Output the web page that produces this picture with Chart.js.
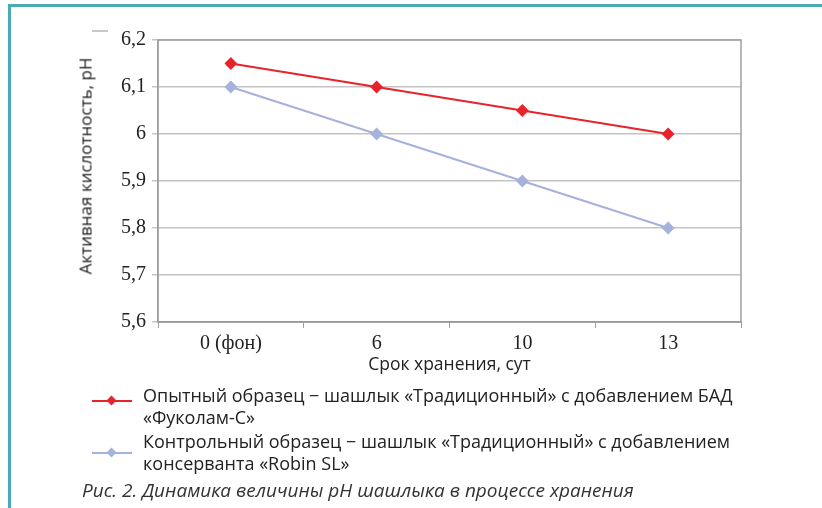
<!DOCTYPE html>
<html>
<head>
<meta charset="utf-8">
<script src="https://cdn.jsdelivr.net/npm/chart.js@4.4.1/dist/chart.umd.min.js"></script>
<style>
    body { margin: 0; background: #fff; }
    #wrap { position: relative; width: 822px; height: 508px; overflow: hidden; }
    #frameTop { position: absolute; left: 8px; top: 4px; width: 814px; height: 3px; background: #4aaab6; }
    #frameLeft { position: absolute; left: 8px; top: 4px; width: 3px; height: 504px; background: #4aaab6; }
    #dash { position: absolute; left: 92px; top: 30px; width: 16px; height: 2px; background: #c8c8c8; }
    canvas { position: absolute; left: 0; top: 0; }
    .txt { position: absolute; font-family: "Open Sans", sans-serif; font-size: 18px; color: #222; white-space: nowrap; line-height: 22px; }
    .mark { position: absolute; width: 40px; height: 2px; }
    .mark span { position: absolute; left: 16px; top: -3px; width: 7px; height: 7px; transform: rotate(45deg); }
    #caption { font-style: italic; color: #333; font-size: 19px; }
    #yTitle { position: absolute; left: 85px; top: 166px; font-family: "Open Sans", sans-serif; font-size: 17px; color: #222;
              white-space: nowrap; transform: translate(-50%, -50%) rotate(-90deg); }
</style>
</head>
<body>
<div id="wrap">
    <div id="frameTop"></div>
    <div id="frameLeft"></div>
    <div id="dash"></div>
    <canvas id="chartPh" width="822" height="508"></canvas>
    <div id="yTitle">Активная кислотность, pH</div>
    <div class="mark" style="left:92px; top:400px; background:#e8232c;"><span style="background:#e8232c;"></span></div>
    <div class="txt" style="left:143px; top:384px;">Опытный образец − шашлык «Традиционный» с добавлением БАД<br>«Фуколам-С»</div>
    <div class="mark" style="left:92px; top:452px; background:#a6b1dc;"><span style="background:#a6b1dc;"></span></div>
    <div class="txt" style="left:143px; top:430px;">Контрольный образец − шашлык «Традиционный» с добавлением<br>консерванта «Robin SL»</div>
    <div class="txt" id="caption" style="left:82px; top:479px;">Рис. 2. Динамика величины pH шашлыка в процессе хранения</div>
</div>
<script>
const days = ["0 (фон)", "6", "10", "13"];
const experimentPh = [6.15, 6.1, 6.05, 6.0];
const controlPh = [6.1, 6.0, 5.9, 5.8];

const seriesLabels = [
    "Опытный образец − шашлык «Традиционный» с добавлением БАД «Фуколам-С»",
    "Контрольный образец − шашлык «Традиционный» с добавлением консерванта «Robin SL»"
];

const chartPh = document.getElementById("chartPh");

// Frame around the plot area
const plotFrame = {
    id: "plotFrame",
    afterDraw(chart) {
        const { ctx, chartArea } = chart;
        ctx.save();
        ctx.strokeStyle = "#a0a0a0";
        ctx.lineWidth = 1.5;
        ctx.strokeRect(chartArea.left, chartArea.top, chartArea.right - chartArea.left, chartArea.bottom - chartArea.top);
        ctx.restore();
    }
};

const formatPh = (v) => Number(v.toFixed(1)).toString().replace(".", ",");

new Chart(chartPh, {
    type: "line",
    data: {
        labels: days,
        datasets: [
            {
                label: seriesLabels[0],
                data: experimentPh,
                borderColor: "#e8232c",
                backgroundColor: "#e8232c",
                borderWidth: 2,
                pointStyle: "rectRot",
                pointRadius: 5,
                tension: 0,
            },
            {
                label: seriesLabels[1],
                data: controlPh,
                borderColor: "#a6b1dc",
                backgroundColor: "#a6b1dc",
                borderWidth: 2,
                pointStyle: "rectRot",
                pointRadius: 5,
                tension: 0,
            }
        ]
    },
    options: {
        responsive: false,
        animation: false,
        layout: { padding: { left: 60, top: 40, right: 81, bottom: 130 } },
        plugins: {
            legend: { display: false },
            tooltip: { enabled: false },
        },
        scales: {
            x: {
                offset: true,
                afterFit: (scale) => { scale.height = 56; },
                grid: { offset: true, drawOnChartArea: false, tickLength: 6, color: "#a0a0a0" },
                border: { color: "#808080", width: 1.5 },
                ticks: { padding: 4, color: "#222", font: { family: "Liberation Serif", size: 20 } },
                title: {
                    display: true,
                    text: "Срок хранения, сут",
                    color: "#222",
                    padding: { top: 0, bottom: 2 },
                    font: { family: "Open Sans", size: 17.5 }
                }
            },
            y: {
                min: 5.6,
                max: 6.2,
                afterFit: (scale) => { scale.width = 98; },
                grid: { color: "#c4c4c4", lineWidth: 1.5, tickLength: 6 },
                border: { color: "#a0a0a0", width: 1.5 },
                ticks: {
                    stepSize: 0.1,
                    padding: 6,
                    color: "#222",
                    font: { family: "Liberation Serif", size: 20 },
                    callback: (v) => formatPh(v)
                }
            }
        }
    },
    plugins: [plotFrame]
});
</script>
</body>
</html>
